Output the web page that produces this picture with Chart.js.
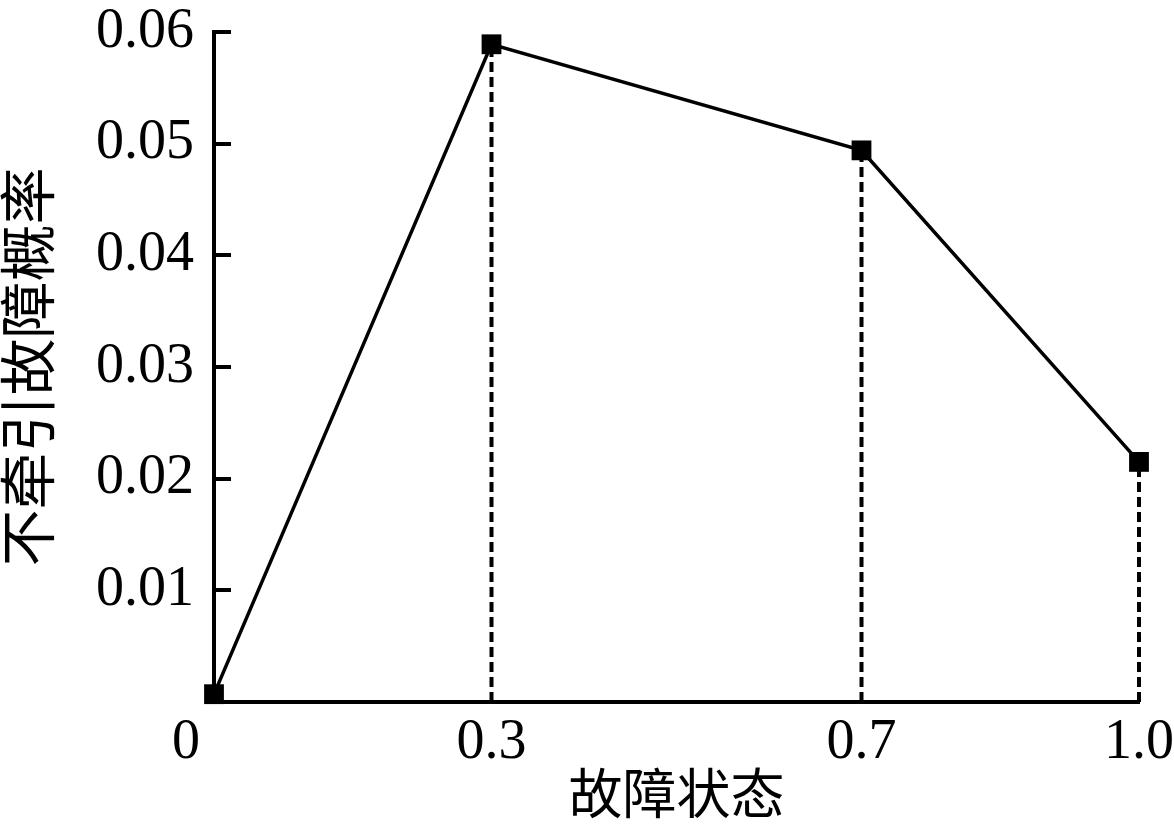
<!DOCTYPE html>
<html>
<head>
<meta charset="utf-8">
<script src="https://cdn.jsdelivr.net/npm/chart.js@4"></script>
<style>
  html, body { margin: 0; padding: 0; background: #fff; }
  #wrap { width: 1174px; height: 832px; }
</style>
</head>
<body>
<div id="wrap"><canvas id="faultChart"></canvas></div>
<script>
// data
const faultStates = [0, 0.3, 0.7, 1.0];
const faultProb = [0.0007, 0.0589, 0.0494, 0.0215];
const xTickLabels = ['0', '0.3', '0.7', '1.0'];
const yTickValues = [0.01, 0.02, 0.03, 0.04, 0.05, 0.06];

const serif = '"Liberation Serif", "Noto Sans CJK SC", serif';

// dashed drop lines from each point down to the axis
const dropLines = faultStates.map((x, i) => ({
    type: 'line',
    data: [{ x: x, y: 0 }, { x: x, y: faultProb[i] }],
    borderColor: '#000',
    borderWidth: 4,
    borderDash: [10, 5],
    pointRadius: 0,
    clip: false
})).filter(d => d.data[0].x > 0);

// short inward ticks on the y axis
const innerTicks = {
    id: 'innerTicks',
    afterDraw(chart) {
        const ctx = chart.ctx;
        const y = chart.scales.y;
        ctx.save();
        ctx.strokeStyle = '#000';
        ctx.lineWidth = 4;
        yTickValues.forEach(v => {
            const py = Math.round(y.getPixelForValue(v));
            ctx.beginPath();
            ctx.moveTo(y.right, py);
            ctx.lineTo(y.right + 17, py);
            ctx.stroke();
        });
        ctx.restore();
    }
};

new Chart(document.getElementById('faultChart'), {
    type: 'scatter',
    data: {
        datasets: [{
            type: 'line',
            data: faultStates.map((x, i) => ({ x, y: faultProb[i] })),
            borderColor: '#000',
            borderWidth: 3.5,
            pointStyle: 'rect',
            pointRadius: 14,
            pointBackgroundColor: '#000',
            pointBorderWidth: 0,
            clip: false,
            order: 0
        }, ...dropLines]
    },
    options: {
        responsive: true,
        maintainAspectRatio: false,
        animation: false,
        layout: { padding: 0 },
        plugins: { legend: { display: false }, tooltip: { enabled: false } },
        scales: {
            x: {
                type: 'linear',
                min: 0,
                max: 1.0,
                afterBuildTicks: (s) => { s.ticks = faultStates.map(v => ({ value: v })); },
                afterFit: (s) => { s.height = 130; s.paddingRight = 35; },
                grid: { display: false },
                border: { display: true, color: '#000', width: 4 },
                ticks: {
                    color: '#000',
                    font: { family: serif, size: 56 },
                    padding: 0,
                    maxRotation: 0,
                    autoSkip: false,
                    callback: (v, i) => i === 0 ? xTickLabels[i] + '    ' : xTickLabels[i]
                },
                title: {
                    display: true,
                    text: '故障状态',
                    color: '#000',
                    font: { family: serif, size: 54 },
                    padding: { top: 0, bottom: 0 }
                }
            },
            y: {
                min: 0,
                max: 0.06,
                afterBuildTicks: (s) => { s.ticks = yTickValues.map(v => ({ value: v })); },
                afterFit: (s) => { s.width = 214; s.paddingTop = 32; },
                grid: { display: false },
                border: { display: true, color: '#000', width: 4 },
                ticks: {
                    color: '#000',
                    font: { family: serif, size: 56 },
                    padding: 12,
                    callback: (v) => v.toFixed(2)
                },
                title: {
                    display: true,
                    text: '不牵引故障概率',
                    color: '#000',
                    font: { family: serif, size: 57 },
                    padding: { top: 0, bottom: 4 }
                }
            }
        }
    },
    plugins: [innerTicks]
});
</script>
</body>
</html>
